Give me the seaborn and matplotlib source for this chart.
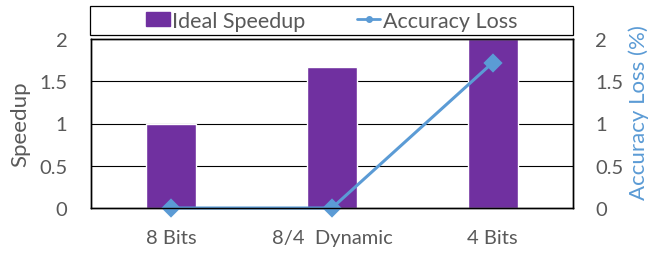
import matplotlib
matplotlib.use("Agg")
import matplotlib.pyplot as plt
import seaborn as sns
import pandas as pd
from matplotlib.patches import Patch, Rectangle
from matplotlib.lines import Line2D

categories = ["8 Bits", "8/4  Dynamic", "4 Bits"]
speedup = [1.0, 1.67, 2.0]
acc_loss = [0.0, 0.0, 1.72]
yticks = [0, 0.5, 1, 1.5, 2]
ytick_labels = ["0", "0.5", "1", "1.5", "2"]

purple = "#7030A0"
blue = "#5B9BD5"
gray = "#595959"

sns.set_theme(style="white")
plt.rcParams["font.family"] = ["Lato", "DejaVu Sans"]

df = pd.DataFrame({"cat": categories, "speedup": speedup, "loss": acc_loss})

W, H = 667, 255
fig = plt.figure(figsize=(W/100, H/100), dpi=100)
ax = fig.add_axes([91/W, 1 - 209/H, (573-91)/W, (209-40)/H])

sns.barplot(data=df, x="cat", y="speedup", color=purple, saturation=1,
            width=0.31, ax=ax, zorder=2)
ax.set_ylim(0, 2)
ax.set_xlim(-0.5, 2.5)
ax.set_yticks(yticks)
ax.set_yticklabels(ytick_labels)
for y in yticks[1:-1]:
    ax.axhline(y, color="black", lw=0.8, zorder=1)
ax.set_xlabel("")
ax.set_ylabel("")
ax.tick_params(axis="y", length=0, pad=17, labelsize=14.5, labelcolor=gray)
ax.tick_params(axis="x", length=0, pad=15, labelsize=14.5, labelcolor=gray)
for s in ax.spines.values():
    s.set_color("black")
    s.set_linewidth(1)
    s.set_visible(True)

ax2 = ax.twinx()
sns.pointplot(data=df, x="cat", y="loss", color=blue, markers="D",
              markersize=8, linewidth=2.2, ax=ax2)
for coll in ax2.collections:
    coll.set_clip_on(False)
for ln in ax2.lines:
    ln.set_clip_on(False)
ax2.set_ylim(0, 2)
ax2.set_xlim(-0.5, 2.5)
ax2.set_yticks(yticks)
ax2.set_yticklabels(ytick_labels)
ax2.set_ylabel("")
ax2.tick_params(axis="y", length=0, pad=16, labelsize=14.5, labelcolor=gray)
ax2.grid(False)
ax2.set_xlabel("")
for s in ax2.spines.values():
    s.set_color("black")
    s.set_linewidth(1)

fig.text(20/W, 1 - 124/H, "Speedup", rotation=90, ha="center", va="center",
         fontsize=16, color=gray)
fig.text(639/W, 1 - 113/H, "Accuracy Loss (%)", rotation=90, ha="center",
         va="center", fontsize=16, color=blue)

# legend box
fig.patches.append(Rectangle((90/W, 1 - 36/H), (573-90)/W, 29/H,
                             transform=fig.transFigure, fill=False,
                             edgecolor="black", lw=0.9))
handles = [Patch(facecolor=purple, edgecolor=purple),
           Line2D([], [], color=blue, lw=2, marker="o", markersize=4)]
leg = fig.legend(handles, ["Ideal Speedup", "Accuracy Loss"], ncol=2,
                 loc="center",
                 bbox_to_anchor=(331.5/W, 1 - 21.5/H),
                 frameon=False, fontsize=15.5, labelcolor=gray,
                 handlelength=1.1, handleheight=0.6, handletextpad=0.1,
                 columnspacing=2.4, borderpad=0, borderaxespad=0)

fig.savefig("out.png", dpi=100)
